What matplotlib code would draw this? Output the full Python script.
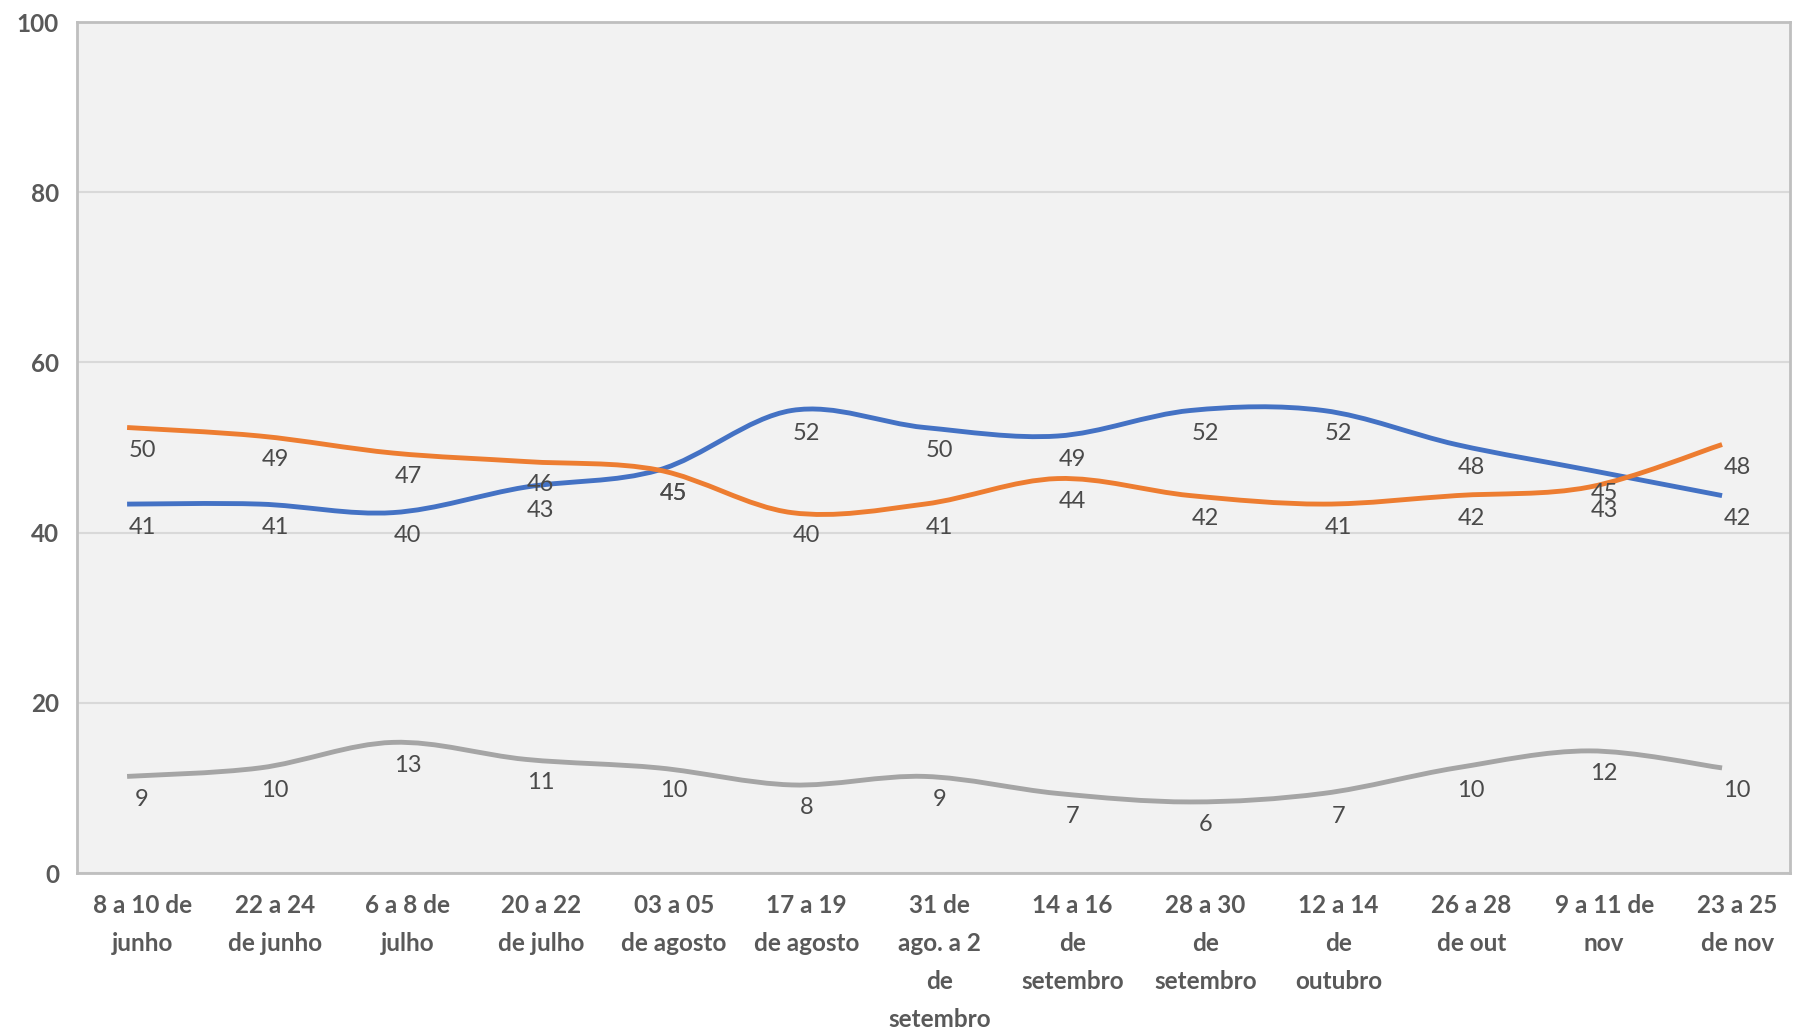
import numpy as np
import matplotlib
matplotlib.use('Agg')
import matplotlib.pyplot as plt
from matplotlib.path import Path
from matplotlib.patches import PathPatch
import matplotlib.transforms as mtrans

# survey rounds
periodos = ['8 a 10 de\njunho', '22 a 24\nde junho', '6 a 8 de\njulho', '20 a 22\nde julho',
            '03 a 05\nde agosto', '17 a 19\nde agosto', '31 de\nago. a 2\nde\nsetembro',
            '14 a 16\nde\nsetembro', '28 a 30\nde\nsetembro', '12 a 14\nde\noutubro',
            '26 a 28\nde out', '9 a 11 de\nnov', '23 a 25\nde nov']
azul = [41, 41, 40, 43, 45, 52, 50, 49, 52, 52, 48, 45, 42]
laranja = [50, 49, 47, 46, 45, 40, 41, 44, 42, 41, 42, 43, 48]
cinza = [9, 10, 13, 11, 10, 8, 9, 7, 6, 7, 10, 12, 10]
yticks = [0, 20, 40, 60, 80, 100]

FONT = ['Lato', 'DejaVu Sans']
plt.rcParams['font.family'] = FONT


def smooth_path(xs, ys):
    # excel-like smoothed line: cubic bezier through the points
    pts = np.column_stack([xs, ys]).astype(float)
    n = len(pts)
    verts = [pts[0]]
    codes = [Path.MOVETO]
    for i in range(n - 1):
        p0 = pts[max(i - 1, 0)]
        p1 = pts[i]
        p2 = pts[i + 1]
        p3 = pts[min(i + 2, n - 1)]
        c1 = p1 + (p2 - p0) / 6.0
        c2 = p2 - (p3 - p1) / 6.0
        verts += [c1, c2, p2]
        codes += [Path.CURVE4] * 3
    return Path(verts, codes)


fig = plt.figure(figsize=(17.94, 10.34), dpi=100)
ax = fig.add_axes([0.0429, 0.1557, 0.955, 0.823])
ax.set_facecolor('#F2F2F2')

x = np.arange(len(periodos))
# the lines in the source image sit a bit up/left of their labels
line_tr = mtrans.offset_copy(ax.transData, fig=fig, x=-15, y=20, units='dots')

for vals, col in [(azul, '#4472C4'), (laranja, '#ED7D31'), (cinza, '#A5A5A5')]:
    patch = PathPatch(smooth_path(x, vals), facecolor='none', edgecolor=col,
                      lw=3.5, capstyle='butt', transform=line_tr, zorder=3)
    ax.add_patch(patch)
    for xi, v in zip(x, vals):
        ax.annotate(str(v), (xi, v), xytext=(0, -3), textcoords='offset pixels',
                    ha='center', va='center', fontsize=17, color='#4A4A4A', zorder=4)

ax.set_xlim(-0.49, 12.4)
ax.set_ylim(0, 100)
ax.set_yticks(yticks)
ax.set_xticks(x)
ax.set_xticklabels(periodos, fontsize=17.5, color='#595959', linespacing=1.8, fontweight='bold')
ax.set_yticklabels([str(t) for t in yticks], fontsize=17.5, color='#595959', fontweight='bold')
ax.tick_params(axis='both', length=0)
ax.tick_params(axis='x', pad=15)
ax.tick_params(axis='y', pad=13)
ax.grid(axis='y', color='#D9D9D9', lw=1.5)
ax.set_axisbelow(True)
for s in ax.spines.values():
    s.set_color('#BFBFBF')
    s.set_linewidth(2)

fig.savefig('out.png', dpi=100, facecolor='white')
